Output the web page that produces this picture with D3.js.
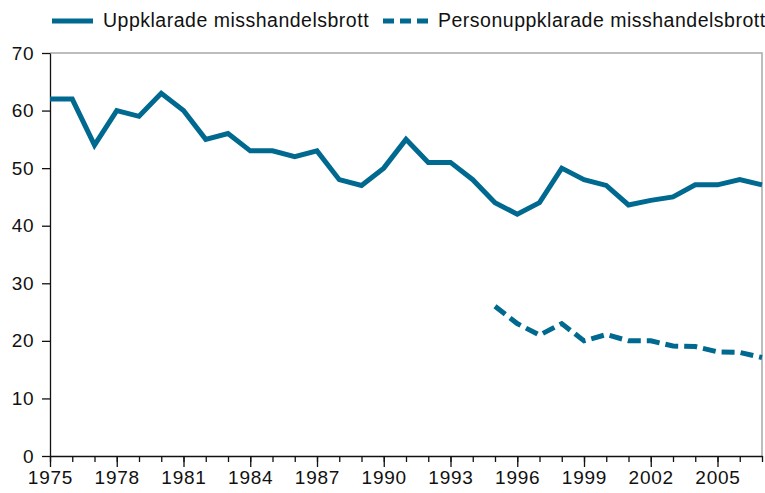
<!DOCTYPE html>
<html>
<head>
<meta charset="utf-8">
<script src="https://cdn.jsdelivr.net/npm/d3@7"></script>
<style>
  body { margin: 0; background: #fff; }
  text { font-family: "Liberation Sans", Arial, sans-serif; fill: #111; }
</style>
</head>
<body>
<script>
// data
var years = d3.range(1975, 2008);
var uppklarade = [62, 62, 54, 60, 59, 63, 60, 55, 56, 53, 53, 52, 53, 48, 47, 50,
                  55, 51, 51, 48, 44, 42, 44, 50, 48, 47, 43.6, 44.4, 45, 47.1, 47.1, 48, 47.1];
var personYears = d3.range(1995, 2008);
var personuppklarade = [26, 23, 21, 23, 20, 21.1, 20, 20, 19.1, 19, 18.1, 18, 17.1];
var yTicks = [0, 10, 20, 30, 40, 50, 60, 70];
var xLabels = [1975, 1978, 1981, 1984, 1987, 1990, 1993, 1996, 1999, 2002, 2005];
var seriesNames = ["Uppklarade misshandelsbrott", "Personuppklarade misshandelsbrott"];

var width = 765, height = 493;
var margin = {top: 53, right: 3, bottom: 37, left: 50};
var color = "#00698f";

var svg = d3.select("body").append("svg")
    .attr("width", width)
    .attr("height", height);

var x = d3.scaleLinear()
    .domain([1975, 2007])
    .range([margin.left, width - margin.right]);

var y = d3.scaleLinear()
    .domain([0, 70])
    .range([height - margin.bottom, margin.top]);

// grey frame top and right
svg.append("path")
    .attr("d", "M" + x(1975) + "," + y(70) + "H" + x(2007) + "V" + y(0))
    .attr("fill", "none")
    .attr("stroke", "#a8a8a8")
    .attr("stroke-width", 1.5);

// y axis
var yAxis = svg.append("g")
    .attr("transform", "translate(" + margin.left + ",0)")
    .call(d3.axisLeft(y).tickValues(yTicks).tickSize(8).tickPadding(8).tickSizeOuter(0));
yAxis.selectAll("text").style("font-size", "19px").style("letter-spacing", "0.5px");
yAxis.selectAll("line, path").attr("stroke", "#111").attr("stroke-width", 1.3);

// x axis: minor ticks each year, major every third
var xAxisMinor = svg.append("g")
    .attr("transform", "translate(0," + y(0) + ")")
    .call(d3.axisBottom(x).tickValues(years).tickSize(6).tickFormat("").tickSizeOuter(0));
xAxisMinor.selectAll("line, path").attr("stroke", "#111").attr("stroke-width", 1.3);

var xAxis = svg.append("g")
    .attr("transform", "translate(0," + y(0) + ")")
    .call(d3.axisBottom(x).tickValues(xLabels).tickSize(11).tickPadding(4)
      .tickFormat(d3.format("d")).tickSizeOuter(0));
xAxis.select(".domain").remove();
xAxis.selectAll("text").style("font-size", "19px").style("letter-spacing", "0.8px");
xAxis.selectAll("line").attr("stroke", "#111").attr("stroke-width", 1.3);

var line = d3.line()
    .x(function(d) { return x(d[0]); })
    .y(function(d) { return y(d[1]); });

svg.append("path")
    .datum(d3.zip(years, uppklarade))
    .attr("d", line)
    .attr("fill", "none")
    .attr("stroke", color)
    .attr("stroke-width", 5)
    .attr("stroke-linejoin", "miter");

svg.append("path")
    .datum(d3.zip(personYears, personuppklarade))
    .attr("d", line)
    .attr("fill", "none")
    .attr("stroke", color)
    .attr("stroke-width", 5)
    .attr("stroke-dasharray", "13,6");

// legend
var legend = svg.append("g");
legend.append("line")
    .attr("x1", 52).attr("x2", 93).attr("y1", 21).attr("y2", 21)
    .attr("stroke", color).attr("stroke-width", 5);
legend.append("text")
    .attr("x", 103).attr("y", 27)
    .style("font-size", "19.5px").style("letter-spacing", "0.5px")
    .text(seriesNames[0]);
legend.append("line")
    .attr("x1", 383).attr("x2", 431).attr("y1", 21).attr("y2", 21)
    .attr("stroke", color).attr("stroke-width", 5)
    .attr("stroke-dasharray", "11,6");
legend.append("text")
    .attr("x", 438).attr("y", 27)
    .style("font-size", "19.5px").style("letter-spacing", "0.5px")
    .text(seriesNames[1]);
</script>
</body>
</html>
